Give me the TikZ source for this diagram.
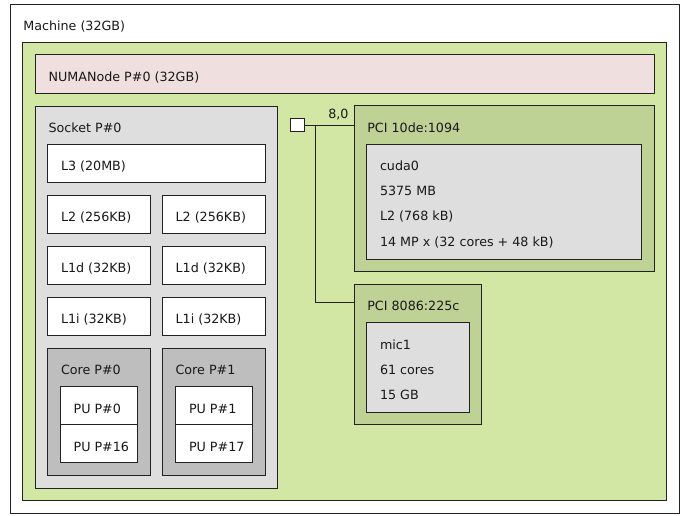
\documentclass[tikz,border=0pt]{standalone}
\usepackage{fontspec}
\setmainfont{DejaVu Sans}
\usetikzlibrary{calc}
\definecolor{machinec}{HTML}{FFFFFF}
\definecolor{groupc}{HTML}{D2E7A4}
\definecolor{numac}{HTML}{EFDFDE}
\definecolor{socketc}{HTML}{DEDEDE}
\definecolor{corec}{HTML}{BEBEBE}
\definecolor{pcic}{HTML}{BED296}
\definecolor{osdevc}{HTML}{DEDEDE}
\definecolor{linec}{HTML}{222222}
\tikzset{
  boxst/.style={draw=linec, line width=1pt, inner sep=0pt, outer sep=0pt, anchor=north west, rectangle},
  txt/.style={anchor=base west, inner sep=0pt, outer sep=0pt, font=\fontsize{12.7}{15}\selectfont, text=black!90},
  conn/.style={draw=linec, line width=1pt},
}
% \hbox{name}{x1}{y1}{x2}{y2}{fill}
\newcommand{\mybox}[6]{%
  \node[boxst, fill=#6, minimum width={(#4-#2)*1pt}, minimum height={(#5-#3)*1pt}] (#1) at (#2,#3) {};}
\newcommand{\mytext}[4]{%
  \node[txt] (#1) at ($(#2.north west)+(13.3,#3)$) {#4};}
\begin{document}
\begin{tikzpicture}[x=1pt,y=-1pt]
\useasboundingbox (0,0) rectangle (681,515);
\mybox{machine}{10}{4}{679.5}{513.5}{machinec}
\mytext{tmachine}{machine}{26.5}{Machine (32GB)}
\mybox{group}{22.3}{42}{666.7}{500.7}{groupc}
\mybox{numa}{35.3}{54.7}{654}{93.3}{numac}
\mytext{tnuma}{numa}{27}{NUMANode P\#0 (32GB)}
\mybox{socket}{35.3}{106}{277.7}{488.3}{socketc}
\mytext{tsocket}{socket}{26.3}{Socket P\#0}
\mybox{l3}{47.7}{144}{265.3}{182.7}{white}
\mytext{tl3}{l3}{26.3}{L3 (20MB)}
\mybox{l2a}{47.7}{195}{150.7}{233.3}{white}
\mytext{tl2a}{l2a}{26.3}{L2 (256KB)}
\mybox{l2b}{162.3}{195}{265.3}{233.3}{white}
\mytext{tl2b}{l2b}{26.3}{L2 (256KB)}
\mybox{l1da}{47.7}{246}{150.7}{284}{white}
\mytext{tl1da}{l1da}{26.3}{L1d (32KB)}
\mybox{l1db}{162.3}{246}{265.3}{284}{white}
\mytext{tl1db}{l1db}{26.3}{L1d (32KB)}
\mybox{l1ia}{47.7}{297.3}{150.7}{335.3}{white}
\mytext{tl1ia}{l1ia}{26.3}{L1i (32KB)}
\mybox{l1ib}{162.3}{297.3}{265.3}{335.3}{white}
\mytext{tl1ib}{l1ib}{26.3}{L1i (32KB)}
\mybox{corea}{47.7}{348.3}{150.7}{475.7}{corec}
\mytext{tcorea}{corea}{26.3}{Core P\#0}
\mybox{coreb}{162.3}{348.3}{265.3}{475.7}{corec}
\mytext{tcoreb}{coreb}{26.3}{Core P\#1}
\mybox{pu0}{60.3}{386.7}{137.3}{424.7}{white}
\mytext{tpu0}{pu0}{26.3}{PU P\#0}
\mybox{pu16}{60.3}{424.7}{137.3}{462.7}{white}
\mytext{tpu16}{pu16}{26.3}{PU P\#16}
\mybox{pu1}{175.7}{386.7}{252.3}{424.7}{white}
\mytext{tpu1}{pu1}{26.3}{PU P\#1}
\mybox{pu17}{175.7}{424.7}{252.3}{462.7}{white}
\mytext{tpu17}{pu17}{26.3}{PU P\#17}
% PCI
\mybox{pcia}{354}{105.7}{654}{271.7}{pcic}
\mytext{tpcia}{pcia}{26.3}{PCI 10de:1094}
\mybox{cuda}{366.7}{144}{641.7}{259}{osdevc}
\mytext{tcuda1}{cuda}{26.3}{cuda0}
\mytext{tcuda2}{cuda}{51.6}{5375 MB}
\mytext{tcuda3}{cuda}{76.9}{L2 (768 kB)}
\mytext{tcuda4}{cuda}{102.2}{14 MP x (32 cores + 48 kB)}
\mybox{pcib}{354}{284.3}{481.7}{424.3}{pcic}
\mytext{tpcib}{pcib}{26.3}{PCI 8086:225c}
\mybox{mic}{366.7}{322.7}{469.3}{412}{osdevc}
\mytext{tmic1}{mic}{26.3}{mic1}
\mytext{tmic2}{mic}{51.6}{61 cores}
\mytext{tmic3}{mic}{76.9}{15 GB}
% host bridge
\mybox{bridge}{290}{118.3}{304}{131.7}{white}
\coordinate (j) at (315.7,125);
\coordinate (k) at (315.7,302.7);
\draw[conn] (bridge.east) -- (bridge.east -| pcia.west);
\draw[conn] (j) -- (k) -- (k -| pcib.west);
\node[txt, anchor=base west] (lbl) at (328.3,118.3) {8,0};
\end{tikzpicture}
\end{document}
